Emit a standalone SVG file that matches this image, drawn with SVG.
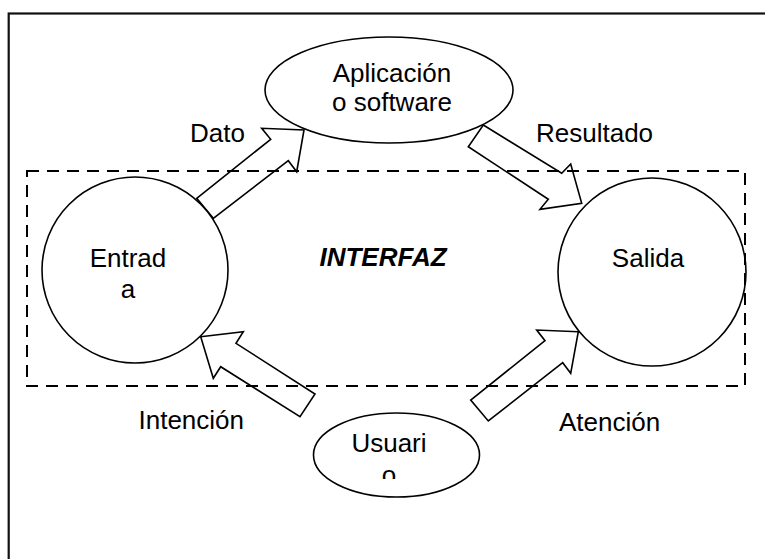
<svg xmlns="http://www.w3.org/2000/svg" width="765" height="559" viewBox="0 0 765 559">
<style>
.t{font-family:"Liberation Sans",Arial,sans-serif;font-size:26px;fill:#000}
.node{fill:#fff;stroke:#000;stroke-width:1.6}
.arrow{fill:#fff;stroke:#000;stroke-width:1.6;stroke-linejoin:miter}
</style>
<defs>
<clipPath id="clipU"><rect x="300" y="400" width="200" height="79"/></clipPath>
</defs>
<rect x="0" y="0" width="765" height="559" fill="#fff"/>
<rect x="8.7" y="13.5" width="800" height="600" fill="none" stroke="#111" stroke-width="2.2"/>
<g id="connectors">
<polygon class="arrow" points="196.7,198.3 270.7,139.3 261.7,128.3 304,130 296.7,171.7 288.3,160.7 213.3,218.3"/>
<polygon class="arrow" points="483.3,125 561.7,173.3 570.7,164 581.7,203.3 540,209.3 548.3,199.3 468.3,146.7"/>
<polygon class="arrow" points="200.7,336.7 243.3,331.7 236,343.3 315,394 300,416.7 220.7,366.7 213.3,378.3"/>
<polygon class="arrow" points="578.3,331.7 536.7,330 545,340.7 470.7,400 488.3,421 562.7,362.7 570.7,373.3"/>
</g>
<g id="aplicacion">
<ellipse class="node" cx="389" cy="90" rx="124" ry="53"/>
<text class="t" x="392" y="82" text-anchor="middle">Aplicación</text>
<text class="t" x="392" y="111" text-anchor="middle">o software</text>
</g>
<g id="entrada">
<circle class="node" cx="135" cy="270" r="93"/>
<text class="t" x="128" y="267" text-anchor="middle">Entrad</text>
<text class="t" x="128" y="298" text-anchor="middle">a</text>
</g>
<g id="salida">
<circle class="node" cx="652" cy="272" r="94"/>
<text class="t" x="648" y="267" text-anchor="middle">Salida</text>
</g>
<g id="usuario">
<ellipse class="node" cx="396.5" cy="455" rx="83" ry="42"/>
<g clip-path="url(#clipU)">
<text class="t" x="389" y="452" text-anchor="middle">Usuari</text>
<text class="t" x="389" y="484" text-anchor="middle">o</text>
</g>
</g>
<g id="interfaz">
<rect x="27" y="171" width="718" height="215" fill="none" stroke="#000" stroke-width="2" stroke-dasharray="12 8"/>
<text class="t" x="383" y="266" text-anchor="middle" font-weight="bold" font-style="italic">INTERFAZ</text>
</g>
<g id="labels">
<text class="t" x="190" y="142">Dato</text>
<text class="t" x="536" y="142">Resultado</text>
<text class="t" x="244" y="429" text-anchor="end">Intención</text>
<text class="t" x="559" y="431">Atención</text>
</g>
</svg>
